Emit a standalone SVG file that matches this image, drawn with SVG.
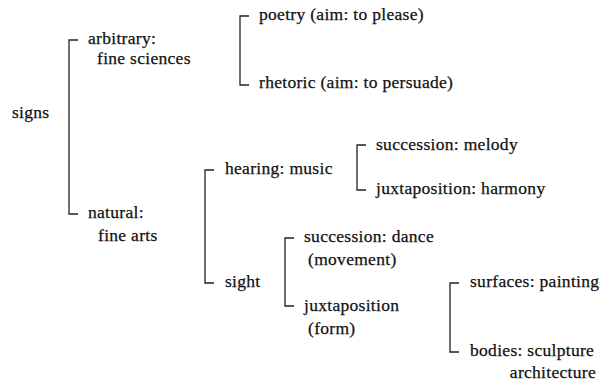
<svg xmlns="http://www.w3.org/2000/svg" width="602" height="385" viewBox="0 0 602 385">
<style>
.t text{font-size:17.5px;letter-spacing:0.3px;fill:#111;stroke:#111;stroke-width:0.25}
.br{fill:none;stroke:#222;stroke-width:1.3}
</style>
<rect width="602" height="385" fill="#fff"/>
<g id="connectors">
<path class="br" d="M78,40 H69 V214 H78"/>
<path class="br" d="M249,16 H240 V85 H249"/>
<path class="br" d="M214,170 H205 V283 H214"/>
<path class="br" d="M366,145 H357 V190 H366"/>
<path class="br" d="M294,238 H285 V306 H294"/>
<path class="br" d="M459,283 H450 V352 H459"/>
</g>
<g class="t" font-family="'Liberation Serif', 'Times New Roman', serif">
<g id="signs"><text x="12" y="118">signs</text></g>
<g id="arbitrary"><text x="88" y="44">arbitrary:</text><text x="97" y="64">fine sciences</text></g>
<g id="natural"><text x="88" y="218">natural:</text><text x="98" y="241">fine arts</text></g>
<g id="poetry"><text x="259" y="20">poetry (aim: to please)</text></g>
<g id="rhetoric"><text x="259" y="88">rhetoric (aim: to persuade)</text></g>
<g id="hearing"><text x="225" y="174">hearing: music</text></g>
<g id="sight"><text x="225" y="287">sight</text></g>
<g id="melody"><text x="376" y="150">succession: melody</text></g>
<g id="harmony"><text x="376" y="194">juxtaposition: harmony</text></g>
<g id="dance"><text x="304" y="242">succession: dance</text><text x="308" y="265">(movement)</text></g>
<g id="juxtaposition"><text x="304" y="311">juxtaposition</text><text x="308" y="334">(form)</text></g>
<g id="surfaces"><text x="470" y="287">surfaces: painting</text></g>
<g id="bodies"><text x="470" y="356">bodies: sculpture</text><text x="596" y="378" text-anchor="end">architecture</text></g>
</g>
</svg>
